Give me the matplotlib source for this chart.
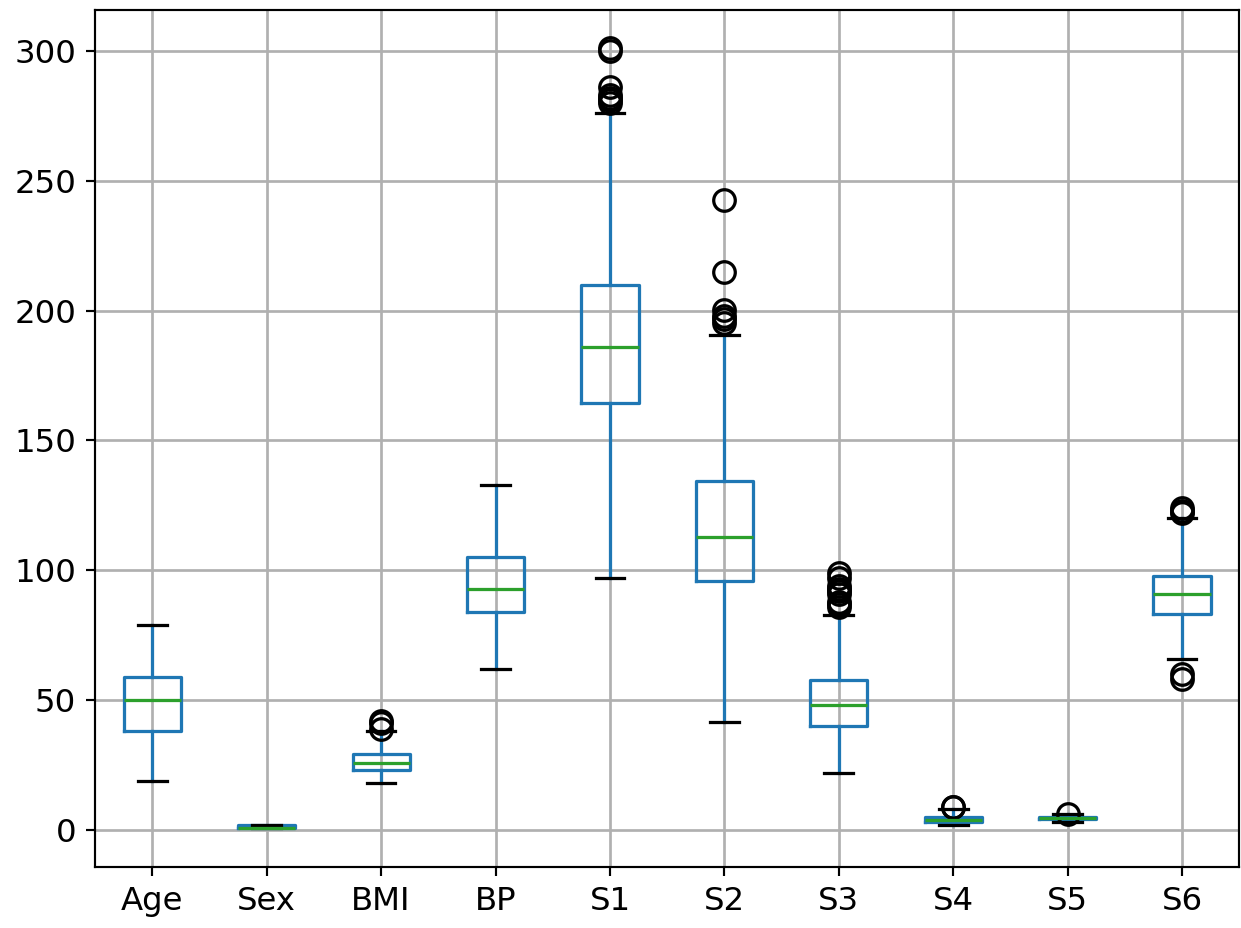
import matplotlib
matplotlib.use("Agg")
import matplotlib.pyplot as plt

# columnas del dataset de diabetes
labels = ["Age", "Sex", "BMI", "BP", "S1", "S2", "S3", "S4", "S5", "S6"]

# estadisticos
whislo = [19, 1, 18, 62, 97, 41.6, 22, 2, 3.26, 66]
q1 = [38.25, 1, 23.2, 84, 164.25, 96.05, 40.25, 3, 4.28, 83.25]
med = [50, 1, 25.7, 93, 186, 113, 48, 4, 4.62, 91]
q3 = [59, 2, 29.3, 105, 209.75, 134.5, 57.75, 5, 5.0, 98]
whishi = [79, 2, 38.0, 133, 276, 190.5, 83, 8, 6.06, 120]
fliers = [
    [],
    [],
    [42.2, 41.3, 39.1],
    [],
    [301, 300, 286, 283, 282, 281, 280],
    [242.4, 215.0, 200.2, 198.0, 196.8, 195.4],
    [99, 97, 94, 93, 92, 91, 88, 87, 86],
    [9.09, 8.84],
    [6.11],
    [124, 123, 122, 60, 58],
]

stats = []
for i in range(len(labels)):
    stats.append({"label": labels[i], "whislo": whislo[i], "q1": q1[i],
                  "med": med[i], "q3": q3[i], "whishi": whishi[i],
                  "fliers": fliers[i]})

fig = plt.figure(figsize=(1241 / 194, 928 / 194), dpi=194)
ax = fig.add_axes([0.0766, 0.0657, 0.922, 0.923])

lw = 1.2
ax.bxp(stats,
       boxprops=dict(color="C0", linewidth=lw),
       whiskerprops=dict(color="C0", linewidth=lw),
       medianprops=dict(color="C2", linewidth=lw),
       capprops=dict(color="black", linewidth=lw),
       flierprops=dict(marker="o", markersize=8, markerfacecolor="none",
                       markeredgecolor="black", markeredgewidth=lw))

ax.grid(True, linewidth=1.0)
ax.set_ylim(-14.2, 315.5)
ax.set_xlim(0.5, 10.5)
ax.tick_params(labelsize=12)

fig.savefig("out.png", dpi=194)
